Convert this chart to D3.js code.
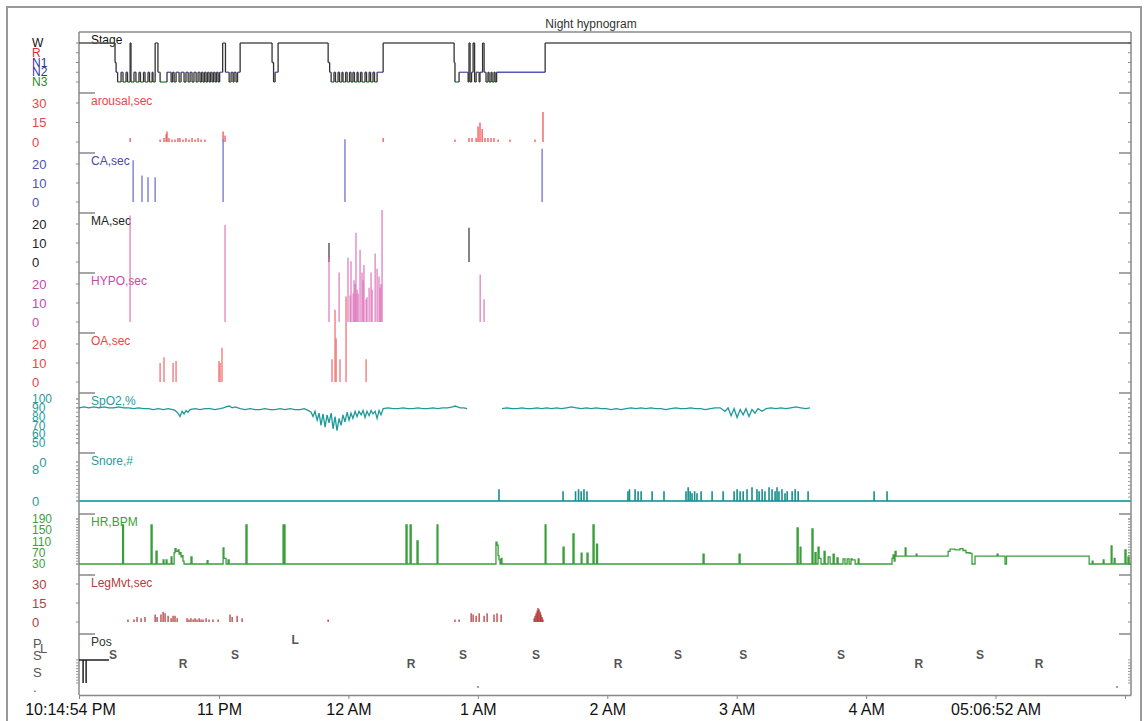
<!DOCTYPE html>
<html>
<head>
<meta charset="utf-8">
<script src="https://cdn.jsdelivr.net/npm/d3@7/dist/d3.min.js"></script>
<style>
body { margin: 0; background: #fff; }
svg { font-family: "Liberation Sans", Arial, sans-serif; }
</style>
</head>
<body>
<div id="chart"></div>
<script>
// times are minutes after 10 PM
var timeTicks = [[-4.9, "10:14:54 PM"], [60, "11 PM"], [120, "12 AM"], [180, "1 AM"], [240, "2 AM"],
                 [300, "3 AM"], [360, "4 AM"], [420, "05:06:52 AM"], [480, ""]];

var stageLevels = ["W", "R", "N1", "N2", "N3"];
var stageSteps = [
  [-4.9,"W"],[11.8,"N1"],[12.3,"N2"],[13.0,"N3"],[14.6,"N2"],[15.5,"N3"],[16.9,"N2"],[17.6,"N3"],
  [18.8,"W"],[19.2,"N3"],[20.6,"N2"],[21.5,"N3"],[22.9,"N2"],[23.6,"N3"],[25.0,"N2"],[25.7,"N3"],
  [27.1,"N2"],[27.8,"N3"],[29.0,"N2"],[29.4,"N3"],[30.4,"W"],[31.7,"N2"],[32.7,"N3"],[35.9,"N2"],
  [37.8,"N3"],[38.5,"N2"],[39.2,"N3"],[40.1,"N2"],[41.5,"N3"],[42.4,"N2"],[43.8,"N3"],[44.7,"N2"],
  [45.7,"N3"],[46.6,"N2"],[47.5,"N3"],[48.4,"N2"],[49.4,"N3"],[50.3,"N2"],[51.2,"N3"],[51.9,"N2"],
  [52.6,"N3"],[53.3,"N2"],[54.0,"N3"],[54.7,"N2"],[55.4,"N3"],[56.1,"N2"],[56.8,"N3"],[57.5,"N2"],
  [58.2,"N3"],[58.9,"N2"],[59.6,"N3"],[60.3,"N2"],[61.7,"W"],[63.0,"N2"],[64.7,"N3"],[65.6,"N2"],
  [66.5,"N3"],[67.0,"N2"],[67.9,"N3"],[68.6,"N2"],[69.8,"W"],[84.6,"N1"],[85.3,"N3"],[86.0,"N2"],
  [87.4,"W"],[110.6,"N1"],[111.3,"N2"],[112.0,"N3"],[113.3,"N2"],[114.0,"N3"],[115.2,"N2"],[115.9,"N3"],
  [117.0,"N2"],[117.5,"N3"],[118.7,"N2"],[119.4,"N3"],[120.5,"N2"],[121.2,"N3"],[122.1,"N2"],[122.8,"N3"],
  [124.0,"N2"],[124.5,"N3"],[125.6,"N2"],[126.3,"N3"],[127.7,"N2"],[128.4,"N3"],[129.6,"N2"],[130.3,"N3"],
  [131.4,"N2"],[132.1,"N3"],[133.3,"N2"],[136.1,"W"],[169.0,"N1"],[169.4,"N3"],[171.3,"N2"],[175.5,"N3"],
  [175.9,"W"],[176.4,"N3"],[177.1,"N2"],[177.8,"W"],[178.5,"N3"],[179.2,"N2"],[180.6,"N3"],[181.0,"N2"],
  [182.2,"W"],[182.9,"N2"],[183.8,"N3"],[184.7,"N2"],[185.2,"N3"],[186.1,"N2"],[186.6,"N3"],[187.5,"N2"],
  [188.0,"N3"],[188.7,"N2"],[211.2,"W"]
];

var arousalTicks = [30, 15, 0];
var arousalBars = [
  [18.8,3],[32.7,2],[34.5,3],[35.5,6],[35.9,8],[36.8,3],[38.2,2],[39.6,2],[41.0,3],[41.9,3],[43.3,2],
  [44.7,3],[46.1,2],[47.5,3],[48.9,2],[50.3,3],[51.7,2],[53.5,2],[61.9,8],[62.8,5],[136.1,3],[169.4,2],
  [175.9,3],[177.3,3],[179.2,3],[180.1,12],[181.0,15],[182.0,10],[183.3,3],[184.7,3],[186.1,3],
  [187.5,3],[189.4,2],[194.9,2],[206.5,2],[210.2,23]
];

var caTicks = [20, 10, 0];
var caBars = [[20.2,22],[24.3,14],[27.1,13],[30.4,13],[61.9,33],[118.4,33],[209.8,28]];

var maTicks = [20, 10, 0];
var maBars = [[111.0,10],[175.9,18]];

var hypoTicks = [20, 10, 0];
var hypoBars = [
  [18.8,56],[62.8,51],[111.0,34],[115.7,26],[119.8,34],[121.2,32],[122.2,15],[122.6,22],[123.5,47],
  [124.0,17],[125.4,38],[126.3,26],[127.2,30],[128.6,13],[129.6,18],[130.5,26],[132.4,36],[133.3,28],
  [134.2,24],[135.6,59],[120.8,14],[123.1,20],[124.5,15],[126.8,22],[128.2,12],[131.0,17],[134.7,18],
  [135.1,20],[181.1,25],[182.9,12]
];

var oaTicks = [20, 10, 0];
var oaBars = [
  [32.7,10],[34.5,13],[38.7,10],[40.1,11],[60.0,11],[60.5,10],[61.4,18],[112.4,12],[113.8,38],
  [114.3,23],[116.1,12],[118.9,45],[128.2,12]
];

var spo2Ticks = [100, 90, 80, 70, 60, 50];
var spo2 = [
  [-4.9,90],[-2.6,91],[-0.3,90],[2.0,91],[4.3,90],[6.6,91],[8.9,90],[11.2,90],[13.5,91],[15.8,90],
  [18.1,90],[20.4,89],[22.7,90],[25.0,89],[27.3,89],[29.6,88],[31.9,89],[34.2,88],[36.5,89],[38.5,88],
  [39.6,87],[41.0,84],[41.9,80],[42.9,86],[43.8,83],[44.7,87],[45.6,85],[46.6,88],[48.9,89],[51.2,88],
  [53.5,89],[55.8,89],[58.1,88],[60.5,89],[62.0,90],[63.3,91],[64.7,92],[66.1,90],[67.5,91],[69.8,89],
  [72.1,88],[74.4,89],[76.7,88],[79.0,88],[81.3,89],[83.7,88],[86.0,88],[88.3,89],[90.6,88],[92.9,89],
  [95.2,88],[97.6,88],[99.5,89],[101.3,87],
  [102.7,85],[103.6,80],[104.5,86],[105.5,76],[106.4,84],[107.3,70],[108.2,83],[109.2,68],
  [110.1,82],[111.0,73],[112.0,84],[112.9,66],[113.8,80],[114.7,64],[115.7,78],[116.6,70],[117.5,82],
  [118.4,74],[119.4,85],[120.3,76],[121.2,84],[122.1,78],[123.1,86],[124.0,80],[124.9,86],[125.9,82],
  [126.8,87],[127.7,79],[128.6,86],[129.6,81],[130.5,87],[131.4,83],[132.4,86],[133.3,78],[134.2,87],
  [135.1,82],[136.1,89],[138.4,90],[140.7,89],[143.0,89],[145.3,90],[147.6,89],[149.9,89],[152.2,90],
  [154.5,89],[156.8,89],[159.1,90],[161.4,89],[163.7,90],[166.0,90],[168.3,91],[169.4,92],[170.6,91],
  [171.8,90],[173.5,90],[175.0,89],[175.1,null],
  [191.2,89],[193.5,90],[195.8,89],[198.1,89],[200.4,90],[202.7,89],[205.0,89],[207.3,90],[209.6,89],
  [211.9,90],[214.2,89],[216.5,90],[218.8,89],[221.1,90],[223.4,91],[225.7,90],[228.0,89],[230.3,90],
  [232.6,89],[234.9,90],[237.2,89],[239.5,89],[241.8,88],[244.1,89],[246.4,88],[248.7,89],[251.0,90],
  [253.3,89],[255.6,90],[257.9,89],[260.2,90],[262.5,89],[264.8,89],[267.1,88],[269.4,89],[271.7,90],
  [274.0,89],[276.3,89],[278.6,90],[280.9,89],[283.2,89],[285.5,88],[287.8,89],[290.0,90],[292.3,90],
  [294.6,86],[296.0,90],[297.4,81],[298.8,89],[300.2,79],[301.6,88],[303.0,82],[304.3,89],[305.7,80],
  [307.1,88],[308.5,84],[309.9,89],[311.8,86],[313.6,89],[315.9,90],[318.2,89],[320.5,90],[322.8,89],
  [325.1,90],[327.4,91],[329.7,90],[332.0,89],[334.0,90]
];

var snoreTicks = [10, 8, 0];
var snoreBars = [
  [189.8,3],[219.5,2.5],[225.3,2.5],[226.7,3],[227.9,2.5],[229.2,3],[230.6,2.5],[249.6,2.5],[250.3,3],
  [252.9,3],[254.3,2.5],[255.7,2.5],[260.8,2.5],[266.3,2.5],[276.5,2.5],[277.5,3.5],[278.4,2.5],
  [279.3,2],[280.5,2.5],[281.6,2],[283.5,2.5],[288.6,2.5],[293.7,2.5],[298.8,2.5],[300.2,3],[301.6,2.5],
  [303.0,2.5],[304.8,3],[307.1,3.5],[309.4,3],[310.4,2.5],[311.8,3],[313.1,2.5],[315.0,3.5],[316.4,3],
  [317.8,2.5],[318.7,3.5],[319.6,2.5],[321.0,3],[322.4,2],[323.4,2.5],[325.7,2.5],[327.1,3],[328.5,2.5],
  [333.1,2.5],[363.7,2.5],[369.7,2.5]
];

var hrTicks = [190, 150, 110, 70, 30];
var hr = [
  [-4.9,30],[15.3,169],[15.75,30],[28.5,169],[29.0,30],[30.8,76],[31.3,30],[34.1,45],[34.5,30],[35.5,45],
  [35.9,30],[37.8,55],[38.2,30],[39.2,70],[39.6,85],[40.1,75],[41.0,80],[41.5,65],[41.9,70],[42.4,55],
  [42.9,60],[43.3,40],[43.8,30],[47.0,55],[47.5,30],[54.5,42],[54.9,30],[61.9,87],[62.3,50],[63.3,30],
  [64.2,45],[64.7,30],[72.5,169],[73.0,30],[89.7,169],[90.0,30],[90.3,169],[90.6,30],[146.7,169],[147.2,30],
  [148.6,169],[149.1,30],[151.8,112],[152.3,30],[161.1,169],[161.5,30],[188.4,108],[188.9,97],[189.4,60],
  [189.8,45],[190.3,30],[190.8,50],[191.2,30],[211.2,169],[211.6,30],[219.5,90],[220.0,30],[224.1,137],
  [224.6,30],[227.9,69],[228.3,30],[230.6,69],[231.1,30],[233.4,169],[233.9,30],[235.0,101],[235.5,30],
  [284.4,65],[284.9,30],[301.1,65],[301.6,30],[328.0,158],[328.5,30],[329.4,90],[329.8,30],[334.9,155],
  [335.4,30],[336.3,70],[336.8,30],[337.7,90],[338.2,50],[339.1,30],[340.5,75],[341.0,30],[342.4,55],
  [343.3,30],[344.7,65],[345.2,30],[346.5,52],[347.0,30],[349.3,48],[350.2,30],[351.2,48],[352.1,30],
  [353.0,48],[353.5,45],[354.9,30],[356.3,48],[356.7,30],[372.0,50],[372.5,62],[373.0,40],[373.4,75],
  [373.9,58],[378.1,87],[378.5,58],[383.2,65],[383.6,58],[398.0,75],[398.9,83],[401.2,80],[403.5,85],
  [404.9,78],[406.3,70],[408.2,68],[409.1,30],[410.5,58],[420.7,65],[421.2,58],[424.4,30],[425.1,58],
  [463.4,30],[464.8,40],[465.2,30],[469.9,45],[470.3,30],[473.6,94],[474.0,30],[475.0,50],[475.4,30],
  [480.0,80],[480.5,30],[481.4,55],[481.9,30],[482.8,30]
];

var legTicks = [30, 15, 0];
var legBars = [
  [17.8,2],[20.6,2],[22.0,4],[23.9,3],[25.7,4],[30.4,6],[31.3,4],[33.1,6],[34.1,8],[35.0,7],[36.4,5],
  [37.8,3],[38.7,5],[39.6,5],[40.6,3],[45.2,3],[46.1,2],[47.0,3],[48.0,2],[48.9,3],[49.8,2],[50.8,3],
  [51.7,2],[52.6,2],[54.0,3],[55.4,2],[57.2,2],[59.6,2],[65.1,6],[66.1,4],[68.4,5],[70.7,3],[110.6,2],
  [169.4,2],[171.3,2],[176.9,7],[177.8,6],[179.2,5],[180.6,7],[182.9,5],[184.3,7],[187.5,6],[188.9,7],
  [190.8,6],[206.1,3],[206.5,5],[207.0,7],[207.5,9],[207.9,11],[208.4,10],[208.9,8],[209.3,6],[209.8,4],
  [210.2,2]
];

var posAxisLabels = ["P", "L", "S", "S", "."];
var posLetters = [
  [10.9,"S"],[43.3,"R"],[67.4,"S"],[95.3,"L"],[149.0,"R"],[173.1,"S"],[207.0,"S"],[245.0,"R"],
  [272.8,"S"],[303.0,"S"],[348.4,"S"],[384.5,"R"],[412.8,"S"],[440.2,"R"]
];
var posDots = [180.1, 476.3];
var posTrace = [[-4.9,1],[-3.0,1],[-3.0,0],[-3.0,1],[-1.6,1],[-1.6,0],[-1.6,1],[9.0,1]];

var fullWidth = 1146, fullHeight = 721;
var plotLeft = 79, plotRight = 1131, plotTop = 32, plotBottom = 695;
var panelTops = [32, 93, 153, 213, 273, 333, 393, 453, 514, 575, 634];

var base = new Date(2020, 0, 1, 22, 0, 0);
function tm(m) { return new Date(base.getTime() + m * 60000); }

var svg = d3.select("#chart").append("svg")
    .attr("width", fullWidth)
    .attr("height", fullHeight);

var x = d3.scaleTime()
    .domain([tm(-4.9), tm(482.8)])
    .range([plotLeft, plotRight]);

var yStage = d3.scalePoint().domain(stageLevels).range([43, 82]);
var yArousal = d3.scaleLinear().domain([0, 30]).range([142, 103]);
var yCA = d3.scaleLinear().domain([0, 20]).range([202, 164]);
var yMA = d3.scaleLinear().domain([0, 20]).range([262, 224]);
var yHypo = d3.scaleLinear().domain([0, 20]).range([322, 284]);
var yOA = d3.scaleLinear().domain([0, 20]).range([382, 344]);
var ySpo2 = d3.scaleLinear().domain([50, 100]).range([443, 399]);
var ySnore = d3.scaleLinear().domain([0, 10]).range([501, 462]);
var yHR = d3.scaleLinear().domain([30, 190]).range([564, 519]);
var yLeg = d3.scaleLinear().domain([0, 30]).range([622, 584]);
var yPosLetter = d3.scaleOrdinal().domain(["L", "S", "R"]).range([640, 655, 664]);
var yPosAxis = d3.scaleOrdinal().domain(d3.range(5)).range([643, 648, 655, 672, 687]);
var yPosTrace = d3.scaleLinear().domain([0, 1]).range([683, 660]);

// outer frame
svg.append("rect")
    .attr("x", 7).attr("y", 7)
    .attr("width", 1134).attr("height", 740)
    .attr("fill", "none").attr("stroke", "#999").attr("stroke-width", 2);

svg.append("text")
    .attr("x", 591).attr("y", 28)
    .attr("text-anchor", "middle")
    .style("font-size", "12px").attr("fill", "#333")
    .text("Night hypnogram");

// frame of plot
var frame = svg.append("g").attr("stroke", "#888").attr("stroke-width", 1.5);
frame.append("line").attr("x1", plotLeft).attr("x2", plotRight).attr("y1", plotTop).attr("y2", plotTop);
frame.append("line").attr("x1", plotLeft).attr("x2", plotLeft).attr("y1", plotTop).attr("y2", plotBottom);
frame.append("line").attr("x1", plotRight).attr("x2", plotRight).attr("y1", plotTop).attr("y2", plotBottom);

// panel boundary ticks, left and right
frame.selectAll(".bl").data(panelTops.slice(1)).enter().append("line")
    .attr("x1", plotLeft).attr("x2", plotLeft + 16)
    .attr("y1", function(d) { return d; }).attr("y2", function(d) { return d; });
frame.selectAll(".br").data(panelTops.slice(1)).enter().append("line")
    .attr("x1", plotRight - 12).attr("x2", plotRight)
    .attr("y1", function(d) { return d; }).attr("y2", function(d) { return d; });

// bottom axis
var xAxis = svg.append("g")
    .attr("transform", "translate(0," + plotBottom + ")")
    .call(d3.axisBottom(x)
        .tickValues(timeTicks.map(function(d) { return tm(d[0]); }))
        .tickFormat(function(d, i) { return timeTicks[i][1]; })
        .tickSize(4).tickSizeOuter(0));
xAxis.select(".domain").attr("stroke", "#888").attr("stroke-width", 1.5);
xAxis.selectAll(".tick line").attr("stroke", "#888");
xAxis.selectAll(".tick text")
    .attr("y", 9)
    .style("font-size", "16px")
    .style("font-family", "Liberation Sans, Arial, sans-serif")
    .attr("fill", "#111")
    .attr("dx", function(d, i) { return i == 0 ? -9 : 0; });

// left value labels + minor ticks
function leftLabels(values, scale, color, size, fmt) {
    var g = svg.append("g");
    g.selectAll("text").data(values).enter().append("text")
        .attr("x", 32)
        .attr("y", function(d) { return scale(d); })
        .attr("dy", "0.35em")
        .style("font-size", size + "px")
        .attr("fill", color)
        .text(fmt || function(d) { return d; });
    g.selectAll("line.l").data(values).enter().append("line")
        .attr("x1", plotLeft - 3).attr("x2", plotLeft)
        .attr("y1", function(d) { return scale(d); }).attr("y2", function(d) { return scale(d); })
        .attr("stroke", "#888");
    g.selectAll("line.r").data(values).enter().append("line")
        .attr("x1", plotRight).attr("x2", plotRight - 3)
        .attr("y1", function(d) { return scale(d); }).attr("y2", function(d) { return scale(d); })
        .attr("stroke", "#888");
    return g;
}
function minorTicks(values, scale) {
    svg.append("g").selectAll("line").data(values).enter().append("line")
        .attr("x1", plotLeft - 3).attr("x2", plotLeft)
        .attr("y1", function(d) { return scale(d); }).attr("y2", function(d) { return scale(d); })
        .attr("stroke", "#999");
    svg.append("g").selectAll("line").data(values).enter().append("line")
        .attr("x1", plotRight - 3).attr("x2", plotRight)
        .attr("y1", function(d) { return scale(d); }).attr("y2", function(d) { return scale(d); })
        .attr("stroke", "#999");
}

var stageColors = { W: "#111", R: "#e03030", N1: "#3030a0", N2: "#3030a0", N3: "#2a8a2a" };
leftLabels(stageLevels, yStage, "#111", 12)
    .selectAll("text").attr("fill", function(d) { return stageColors[d]; });
leftLabels(arousalTicks, yArousal, "#e84545", 13);
leftLabels(caTicks, yCA, "#5050b0", 13);
leftLabels(maTicks, yMA, "#222", 13);
leftLabels(hypoTicks, yHypo, "#c848a8", 13);
leftLabels(oaTicks, yOA, "#e84545", 13);
leftLabels(spo2Ticks, ySpo2, "#2a9a9a", 12);
minorTicks(d3.range(50, 101, 5), ySpo2);
var snoreLab = leftLabels(snoreTicks, ySnore, "#2a9a9a", 13);
// top snore label: leading digit is not shown
snoreLab.selectAll("text").filter(function(d) { return d == 10; }).text(null)
    .call(function(t) {
        t.append("tspan").attr("fill", "none").text("1");
        t.append("tspan").text("0");
    });
minorTicks(d3.range(0, 11, 1), ySnore);
leftLabels(hrTicks, yHR, "#3aa03a", 12);
minorTicks(d3.range(30, 191, 10), yHR);
leftLabels(legTicks, yLeg, "#b04040", 13);

// pos axis labels
svg.append("g").selectAll("text").data(posAxisLabels).enter().append("text")
    .attr("x", function(d, i) { return i == 1 ? 40 : 33; })
    .attr("y", function(d, i) { return yPosAxis(i); })
    .attr("dy", "0.35em")
    .style("font-size", "13px")
    .attr("fill", "#555")
    .text(function(d) { return d; });
minorTicks(d3.range(0, 1.01, 0.125), yPosTrace);

// panel titles
var panelNames = ["Stage", "arousal,sec", "CA,sec", "MA,sec", "HYPO,sec", "OA,sec", "SpO2,%", "Snore,#", "HR,BPM", "LegMvt,sec", "Pos"];
var panelColors = ["#111", "#e84545", "#4848a8", "#222", "#c848a8", "#e84545", "#2a9a9a", "#2a9a9a", "#3aa03a", "#b04040", "#333"];
svg.append("g").selectAll("text").data(panelNames).enter().append("text")
    .attr("x", 91)
    .attr("y", function(d, i) { return panelTops[i] + 8; })
    .attr("dy", "0.35em")
    .style("font-size", "12px")
    .attr("fill", function(d, i) { return panelColors[i]; })
    .text(function(d) { return d; });

// hypnogram
var endMin = 482.8;
var stageG = svg.append("g");
stageG.selectAll("line.h").data(stageSteps).enter().append("line")
    .attr("x1", function(d) { return x(tm(d[0])); })
    .attr("x2", function(d, i) { return x(tm(i + 1 < stageSteps.length ? stageSteps[i + 1][0] : endMin)); })
    .attr("y1", function(d) { return yStage(d[1]); })
    .attr("y2", function(d) { return yStage(d[1]); })
    .attr("stroke", function(d) { return d[1] == "W" ? "#555" : d[1] == "N2" ? "#5555bb" : stageColors[d[1]]; })
    .attr("stroke-width", 1.3);
stageG.selectAll("line.v").data(stageSteps.slice(1)).enter().append("line")
    .attr("x1", function(d) { return x(tm(d[0])); })
    .attr("x2", function(d) { return x(tm(d[0])); })
    .attr("y1", function(d, i) { return yStage(stageSteps[i][1]); })
    .attr("y2", function(d) { return yStage(d[1]); })
    .attr("stroke", "#333")
    .attr("stroke-width", 1.3);

function drawBars(data, scale, color, width, opacity) {
    svg.append("g").selectAll("line").data(data).enter().append("line")
        .attr("x1", function(d) { return x(tm(d[0])); })
        .attr("x2", function(d) { return x(tm(d[0])); })
        .attr("y1", scale(0))
        .attr("y2", function(d) { return scale(d[1]); })
        .attr("stroke", color)
        .attr("stroke-width", width)
        .attr("stroke-opacity", opacity || 1);
}

drawBars(arousalBars, yArousal, "#f05555", 1.3);
drawBars(caBars, yCA, "#8585d8", 1.5);
drawBars(maBars, yMA, "#555", 1.8, 0.8);
drawBars(hypoBars, yHypo, "#dc6cb8", 1.6, 0.7);
drawBars(oaBars, yOA, "#f07070", 1.6, 0.8);

// SpO2
svg.append("path")
    .datum(spo2)
    .attr("fill", "none")
    .attr("stroke", "#1e9a9a")
    .attr("stroke-width", 1.3)
    .attr("d", d3.line()
        .defined(function(d) { return d[1] != null; })
        .x(function(d) { return x(tm(d[0])); })
        .y(function(d) { return ySpo2(d[1]); }));

// snore
svg.append("line")
    .attr("x1", plotLeft).attr("x2", plotRight)
    .attr("y1", ySnore(0)).attr("y2", ySnore(0))
    .attr("stroke", "#3aacac").attr("stroke-width", 2);
drawBars(snoreBars, ySnore, "#158d8d", 1.6);

// heart rate
svg.append("path")
    .datum(hr)
    .attr("fill", "none")
    .attr("stroke", "#3a9f3a")
    .attr("stroke-width", 1.3)
    .attr("d", d3.line()
        .curve(d3.curveStepAfter)
        .x(function(d) { return x(tm(d[0])); })
        .y(function(d) { return yHR(d[1]); }));

// leg movements
drawBars(legBars, yLeg, "#a81c1c", 1.3, 0.85);

// position
svg.append("path")
    .datum(posTrace)
    .attr("fill", "none")
    .attr("stroke", "#222")
    .attr("stroke-width", 1.5)
    .attr("d", d3.line()
        .x(function(d) { return x(tm(d[0])); })
        .y(function(d) { return yPosTrace(d[1]); }));
svg.append("g").selectAll("text").data(posLetters).enter().append("text")
    .attr("x", function(d) { return x(tm(d[0])); })
    .attr("y", function(d) { return yPosLetter(d[1]); })
    .attr("dy", "0.35em")
    .attr("text-anchor", "middle")
    .style("font-size", "12px")
    .style("font-weight", "bold")
    .attr("fill", "#555")
    .text(function(d) { return d[1]; });
svg.append("g").selectAll("circle").data(posDots).enter().append("circle")
    .attr("cx", function(d) { return x(tm(d)); })
    .attr("cy", yPosAxis(4))
    .attr("r", 0.9)
    .attr("fill", "#777");
</script>
</body>
</html>
